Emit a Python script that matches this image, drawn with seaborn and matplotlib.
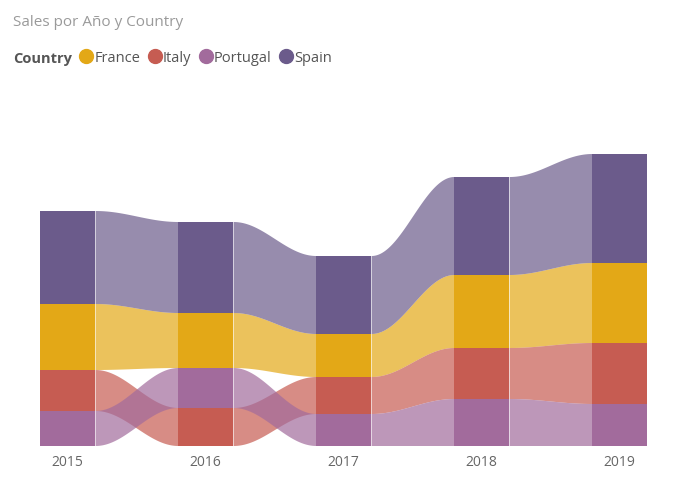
import numpy as np
import matplotlib.pyplot as plt
import seaborn as sns
from matplotlib.lines import Line2D

# Data (sales)
years = ['2015', '2016', '2017', '2018', '2019']
countries = ['France', 'Italy', 'Portugal', 'Spain']
france = [66, 55, 43, 73, 80]
italy = [41, 38, 37, 51, 61]
portugal = [35, 40, 32, 47, 42]
spain = [93, 91, 78, 98, 109]

sales = {'France': france, 'Italy': italy, 'Portugal': portugal, 'Spain': spain}
palette = dict(zip(countries, ['#E3A817', '#C65C52', '#A26B9C', '#6B5B8B']))

sns.set_theme(style='white')
plt.rcParams['font.family'] = ['Open Sans', 'DejaVu Sans']

fig = plt.figure(figsize=(6.75, 4.91), dpi=100)
ax = fig.add_axes([0, 45.5 / 491, 1, 400 / 491])

# ribbon chart: in each year the biggest value sits on top
n = len(years)
bottoms = {c: [] for c in countries}
for i in range(n):
    base = 0
    for c in sorted(countries, key=lambda c: sales[c][i]):
        bottoms[c].append(base)
        base += sales[c][i]

w = 0.4
u = np.linspace(0, 1, 120)
s = (1 - np.cos(np.pi * u)) / 2
for c in countries:
    b = np.array(bottoms[c], dtype=float)
    t = b + np.array(sales[c])
    ax.bar(range(n), sales[c], bottom=b, width=w, color=palette[c], lw=0, zorder=3)
    for i in range(n - 1):
        xs = i + w / 2 + (1 - w) * u
        ax.fill_between(xs, b[i] + (b[i + 1] - b[i]) * s, t[i] + (t[i + 1] - t[i]) * s,
                        color=palette[c], alpha=0.7, lw=0, zorder=2)

ax.set_xlim(-0.489, 4.402)
ax.set_ylim(0, 400)
ax.set_xticks(range(n))
ax.set_xticklabels(years)
ax.set_yticks([])
ax.tick_params(axis='x', length=0, pad=7, labelsize=10, labelcolor='#666666')
for sp in ax.spines.values():
    sp.set_visible(False)
ax.patch.set_alpha(0)

fig.text(13 / 675, 1 - 23 / 491, 'Sales por Año y Country', color='#9a9a9a',
         fontsize=11, va='center', ha='left')
fig.text(13 / 675, 1 - 59 / 491, 'Country', color='#555555', fontsize=10.5,
         fontweight='bold', va='center', ha='left')
handles = [Line2D([], [], marker='o', ls='', color=palette[c], markersize=10) for c in countries]
fig.legend(handles, countries, loc='center left', bbox_to_anchor=(79 / 675, 1 - 58 / 491),
           ncol=4, frameon=False, handletextpad=0.05, columnspacing=0.5, handlelength=1,
           borderpad=0, borderaxespad=0, fontsize=10.5, labelcolor='#555555')

fig.savefig('out.png', dpi=100)
